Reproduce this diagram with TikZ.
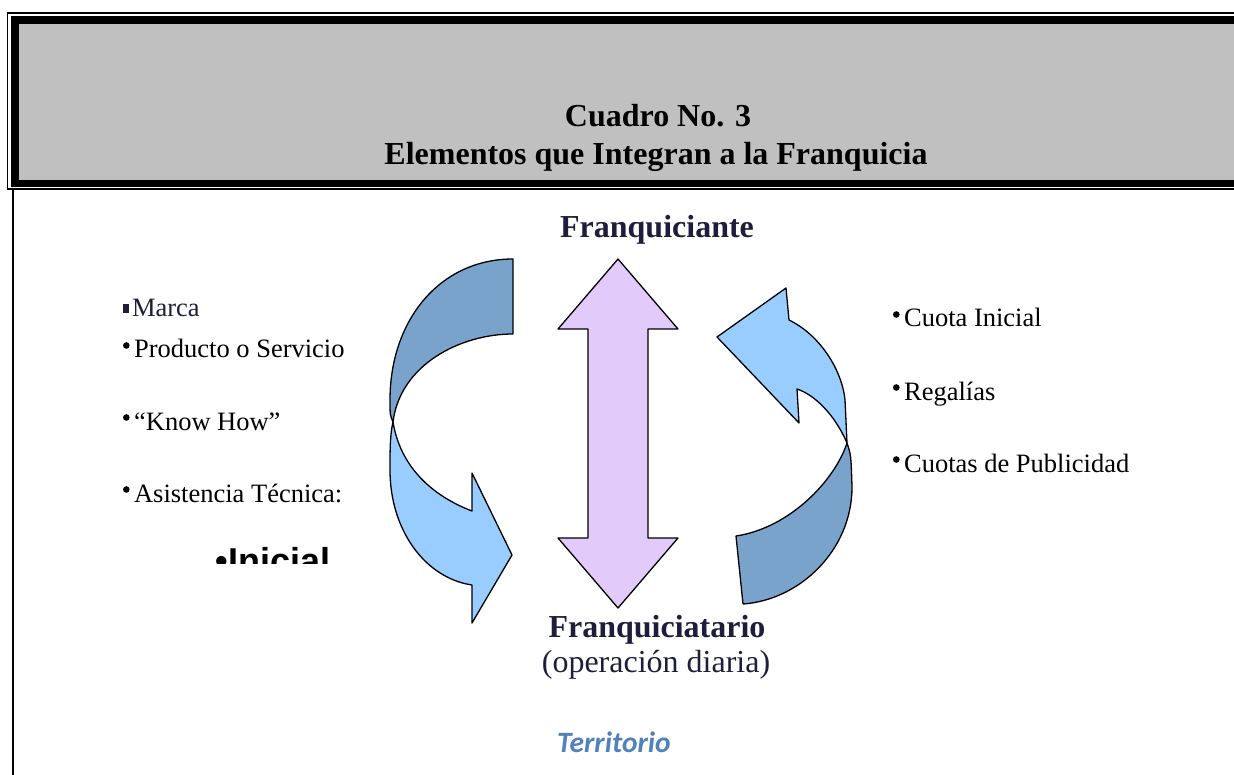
\documentclass[tikz,border=0pt]{standalone}
\usepackage{fontspec}
\setmainfont{Liberation Serif}
\newfontfamily\arialf{Liberation Sans}
\newfontfamily\calibf{Carlito}
\definecolor{framegray}{HTML}{C0C0C0}
\definecolor{darkribbon}{HTML}{7AA3CC}
\definecolor{lightribbon}{HTML}{99CCFF}
\definecolor{lavender}{HTML}{E2CBFB}
\definecolor{navytext}{HTML}{1E1E3C}
\definecolor{terrblue}{HTML}{4F81BD}
\newcommand{\bul}{\tikz[baseline=0pt,x=1pt,y=1pt]\fill (3.5,12.5) circle[radius=3.3pt];\hspace{4.5pt}}
\tikzset{
  txt/.style={inner sep=0pt, outer sep=0pt, anchor=base west},
  ctxt/.style={inner sep=0pt, outer sep=0pt, anchor=base},
  listfont/.style={font=\fontsize{26.5}{30}\selectfont},
  bigbold/.style={font=\fontsize{32}{36}\selectfont\bfseries},
  ribbon/.style={draw=black, line width=1.3pt, line join=round},
}
\begin{document}
\begin{tikzpicture}[x=1pt,y=-1pt]
\useasboundingbox (0,0) rectangle (1234,775);
\clip (0,0) rectangle (1234,775);
% frame
\fill[framegray] (15,20) rectangle (1245,183.5);
\draw[line width=7.5pt] (15,20.25) rectangle (1250,183.5);
\draw[line width=1.6pt] (7.5,13) rectangle (1255,189);
\draw[line width=2pt] (13,189) -- (13,776);
% title
\node[ctxt, bigbold] (t1) at (658,127) {Cuadro No. 3};
\node[ctxt, bigbold] (t2) at (656,165) {Elementos que Integran a la Franquicia};
% central double arrow
\draw[ribbon, fill=lavender] (618,259) -- (678,329) -- (648,329) -- (648,538) -- (678,538) -- (618,608) -- (558,538) -- (588,538) -- (588,329) -- (558,329) -- cycle;
% left curved arrow: dark back part
\draw[ribbon, fill=darkribbon] (513,259) -- (513,334) .. controls (460,334) and (400,365) .. (393,422) .. controls (390,415) .. (390,400) .. controls (390,320) and (440,259) .. (513,259) -- cycle;
% left curved arrow: light front part
\draw[ribbon, fill=lightribbon] (393,422) .. controls (390,435) and (390,450) .. (390,470) .. controls (390,530) and (425,578) .. (472,585) -- (472,623) -- (512,555) -- (472,473) -- (472,511) .. controls (430,495) and (400,465) .. (393,422) -- cycle;
% right curved arrow: light front part
\draw[ribbon, fill=lightribbon] (717,337) -- (786,288) -- (789,320) .. controls (820,335) and (842,370) .. (845,400) -- (847,443) .. controls (835,415) and (815,395) .. (797,389) -- (799,423) -- cycle;
% right curved arrow: dark back part
\draw[ribbon, fill=darkribbon] (847,443) .. controls (851,455) .. (852,487) .. controls (852,550) and (800,600) .. (743,604) -- (736,536) .. controls (790,528) and (835,480) .. (847,443) -- cycle;
% labels
\node[ctxt, bigbold, text=navytext] (fte) at (657,238) {Franquiciante};
\node[ctxt, bigbold, text=navytext] (fta) at (657,637) {Franquiciatario};
\node[ctxt, font=\fontsize{32}{36}\selectfont, text=navytext] (op) at (656,672) {(operación diaria)};
\node[ctxt, font=\fontsize{29.5}{34}\calibf\bfseries\itshape, text=terrblue] (terr) at (614,752) {Territorio};
% left list
\node[txt, listfont, text=navytext] (l1) at (123,317) {\rule[4pt]{5.5pt}{8.5pt}\hspace{3.5pt}Marca};
\node[txt, listfont] (l2) at (123,358) {\bul Producto o Servicio};
\node[txt, listfont] (l3) at (123,430) {\bul “Know How”};
\node[txt, listfont] (l4) at (123,502) {\bul Asistencia Técnica:};
\begin{scope}
\clip (0,0) rectangle (1234,563);
\node[txt, font=\fontsize{36}{40}\arialf\bfseries] (l5) at (215.5,573.5) {•Inicial};
\end{scope}
% right list
\node[txt, listfont] (r1) at (893,327) {\bul Cuota Inicial};
\node[txt, listfont] (r2) at (893,400) {\bul Regalías};
\node[txt, listfont] (r3) at (893,472) {\bul Cuotas de Publicidad};
\end{tikzpicture}
\end{document}
